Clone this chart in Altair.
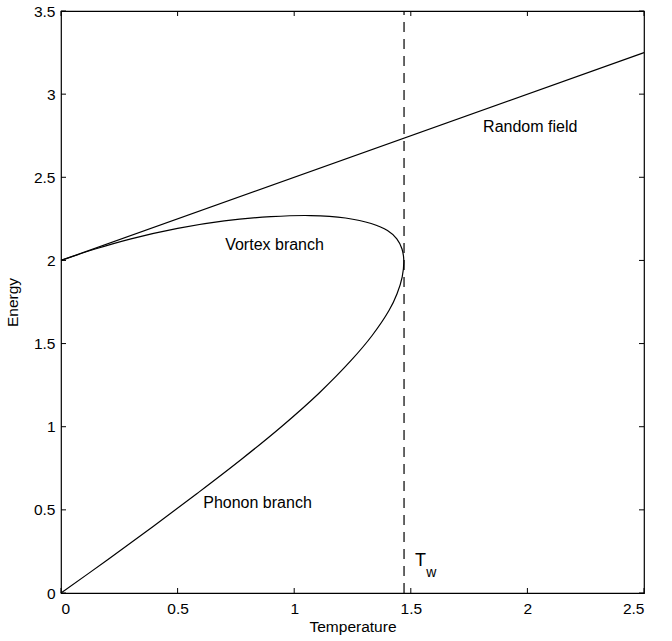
import altair as alt
import pandas as pd

# Random field line
rf_T = [0.0, 2.5]
rf_E = [2.0, 3.25]

# Phonon branch (from origin up to turning point) then vortex branch (back to T=0)
curve_T = [0.0, 0.20, 0.395, 0.585, 0.77, 0.945, 1.105, 1.245, 1.335, 1.407, 1.441, 1.463, 1.47,
           1.462, 1.44, 1.40, 1.33, 1.22, 1.07, 0.90, 0.70, 0.50, 0.30, 0.15, 0.0]
curve_E = [0.0, 0.20, 0.40, 0.60, 0.80, 1.00, 1.20, 1.40, 1.55, 1.70, 1.80, 1.90, 2.0,
           2.07, 2.13, 2.18, 2.222, 2.255, 2.270, 2.263, 2.238, 2.193, 2.130, 2.070, 2.0]

# Transition temperature T_w
tw_T = [1.471]
tw_E0 = [0.0]
tw_E1 = [3.5]

label_text = ["Random field", "Vortex branch", "Phonon branch"]
label_T = [1.81, 0.704, 0.610]
label_E = [2.80, 2.093, 0.541]

tw_text = ["T", "w"]
tw_lab_T = [1.518, 1.566]
tw_lab_E = [0.19, 0.12]
tw_lab_size = [18, 14]

x_ticks = [0, 0.5, 1, 1.5, 2, 2.5]
y_ticks = [0, 0.5, 1, 1.5, 2, 2.5, 3, 3.5]

W, H = 583, 582
TICK = 5
FONT = "Liberation Sans"
FS = 15.5

xs = alt.Scale(domain=[0, 2.5], nice=False, zero=False)
ys = alt.Scale(domain=[0, 3.5], nice=False, zero=False)

rf_df = pd.DataFrame({"T": rf_T, "E": rf_E})
curve_df = pd.DataFrame({"T": curve_T, "E": curve_E, "idx": list(range(len(curve_T)))})
tw_df = pd.DataFrame({"T": tw_T, "E0": tw_E0, "E1": tw_E1})
lab_df = pd.DataFrame({"T": label_T, "E": label_E, "text": label_text})
tw_lab = pd.DataFrame({"T": tw_lab_T, "E": tw_lab_E, "text": tw_text, "size": tw_lab_size})
xt_df = pd.DataFrame({"v": x_ticks})
yt_df = pd.DataFrame({"v": y_ticks})

# Random field + labelled axes
rf = alt.Chart(rf_df).mark_line(color="black", strokeWidth=1.2).encode(
    x=alt.X("T:Q", scale=xs, axis=alt.Axis(
        orient="bottom", values=x_ticks, format="~g", domain=False, grid=False, ticks=False,
        labelPadding=8, labelFontSize=FS, labelFont=FONT, labelColor="black",
        title="Temperature", titleFont=FONT, titleFontSize=FS, titleFontWeight="normal",
        titleColor="black", titlePadding=3)),
    y=alt.Y("E:Q", scale=ys, axis=alt.Axis(
        orient="left", values=y_ticks, format="~g", domain=False, grid=False, ticks=False,
        labelPadding=6, labelFontSize=FS, labelFont=FONT, labelColor="black",
        title="Energy", titleFont=FONT, titleFontSize=FS, titleFontWeight="normal",
        titleColor="black", titlePadding=13)),
)

curve = alt.Chart(curve_df).mark_line(color="black", strokeWidth=1.2, interpolate="catmull-rom").encode(
    x=alt.X("T:Q", scale=xs, axis=None),
    y=alt.Y("E:Q", scale=ys, axis=None),
    order=alt.Order("idx:Q"),
)

tw = alt.Chart(tw_df).mark_rule(color="black", strokeWidth=1.2, strokeDash=[10, 7]).encode(
    x=alt.X("T:Q", scale=xs, axis=None),
    y=alt.Y("E0:Q", scale=ys, axis=None),
    y2="E1:Q",
)

labels = alt.Chart(lab_df).mark_text(align="left", baseline="middle", font=FONT, fontSize=16,
                                     color="black").encode(
    x=alt.X("T:Q", scale=xs, axis=None),
    y=alt.Y("E:Q", scale=ys, axis=None),
    text="text:N",
)

twl = alt.Chart(tw_lab).mark_text(align="left", baseline="middle", font=FONT, color="black").encode(
    x=alt.X("T:Q", scale=xs, axis=None),
    y=alt.Y("E:Q", scale=ys, axis=None),
    text="text:N",
    size=alt.Size("size:Q", scale=None, legend=None),
)

# Inward tick marks on all four edges (MATLAB box style)
tick_style = dict(color="black", strokeWidth=1)
xt_bottom = alt.Chart(xt_df).mark_rule(**tick_style).encode(
    x=alt.X("v:Q", scale=xs, axis=None), y=alt.value(H), y2=alt.value(H - TICK))
xt_top = alt.Chart(xt_df).mark_rule(**tick_style).encode(
    x=alt.X("v:Q", scale=xs, axis=None), y=alt.value(0), y2=alt.value(TICK))
yt_left = alt.Chart(yt_df).mark_rule(**tick_style).encode(
    y=alt.Y("v:Q", scale=ys, axis=None), x=alt.value(0), x2=alt.value(TICK))
yt_right = alt.Chart(yt_df).mark_rule(**tick_style).encode(
    y=alt.Y("v:Q", scale=ys, axis=None), x=alt.value(W), x2=alt.value(W - TICK))

chart = alt.layer(rf, curve, tw, labels, twl, xt_bottom, xt_top, yt_left, yt_right).resolve_axis(
    x="independent", y="independent"
).properties(
    width=W, height=H,
    autosize=alt.AutoSizeParams(type="none"),
    padding={"left": 61, "top": 11, "right": 28, "bottom": 48},
    background="white",
).configure_view(stroke="black", strokeWidth=1.2)

chart.save("out.html", embed_options={"renderer": "svg", "actions": False})
